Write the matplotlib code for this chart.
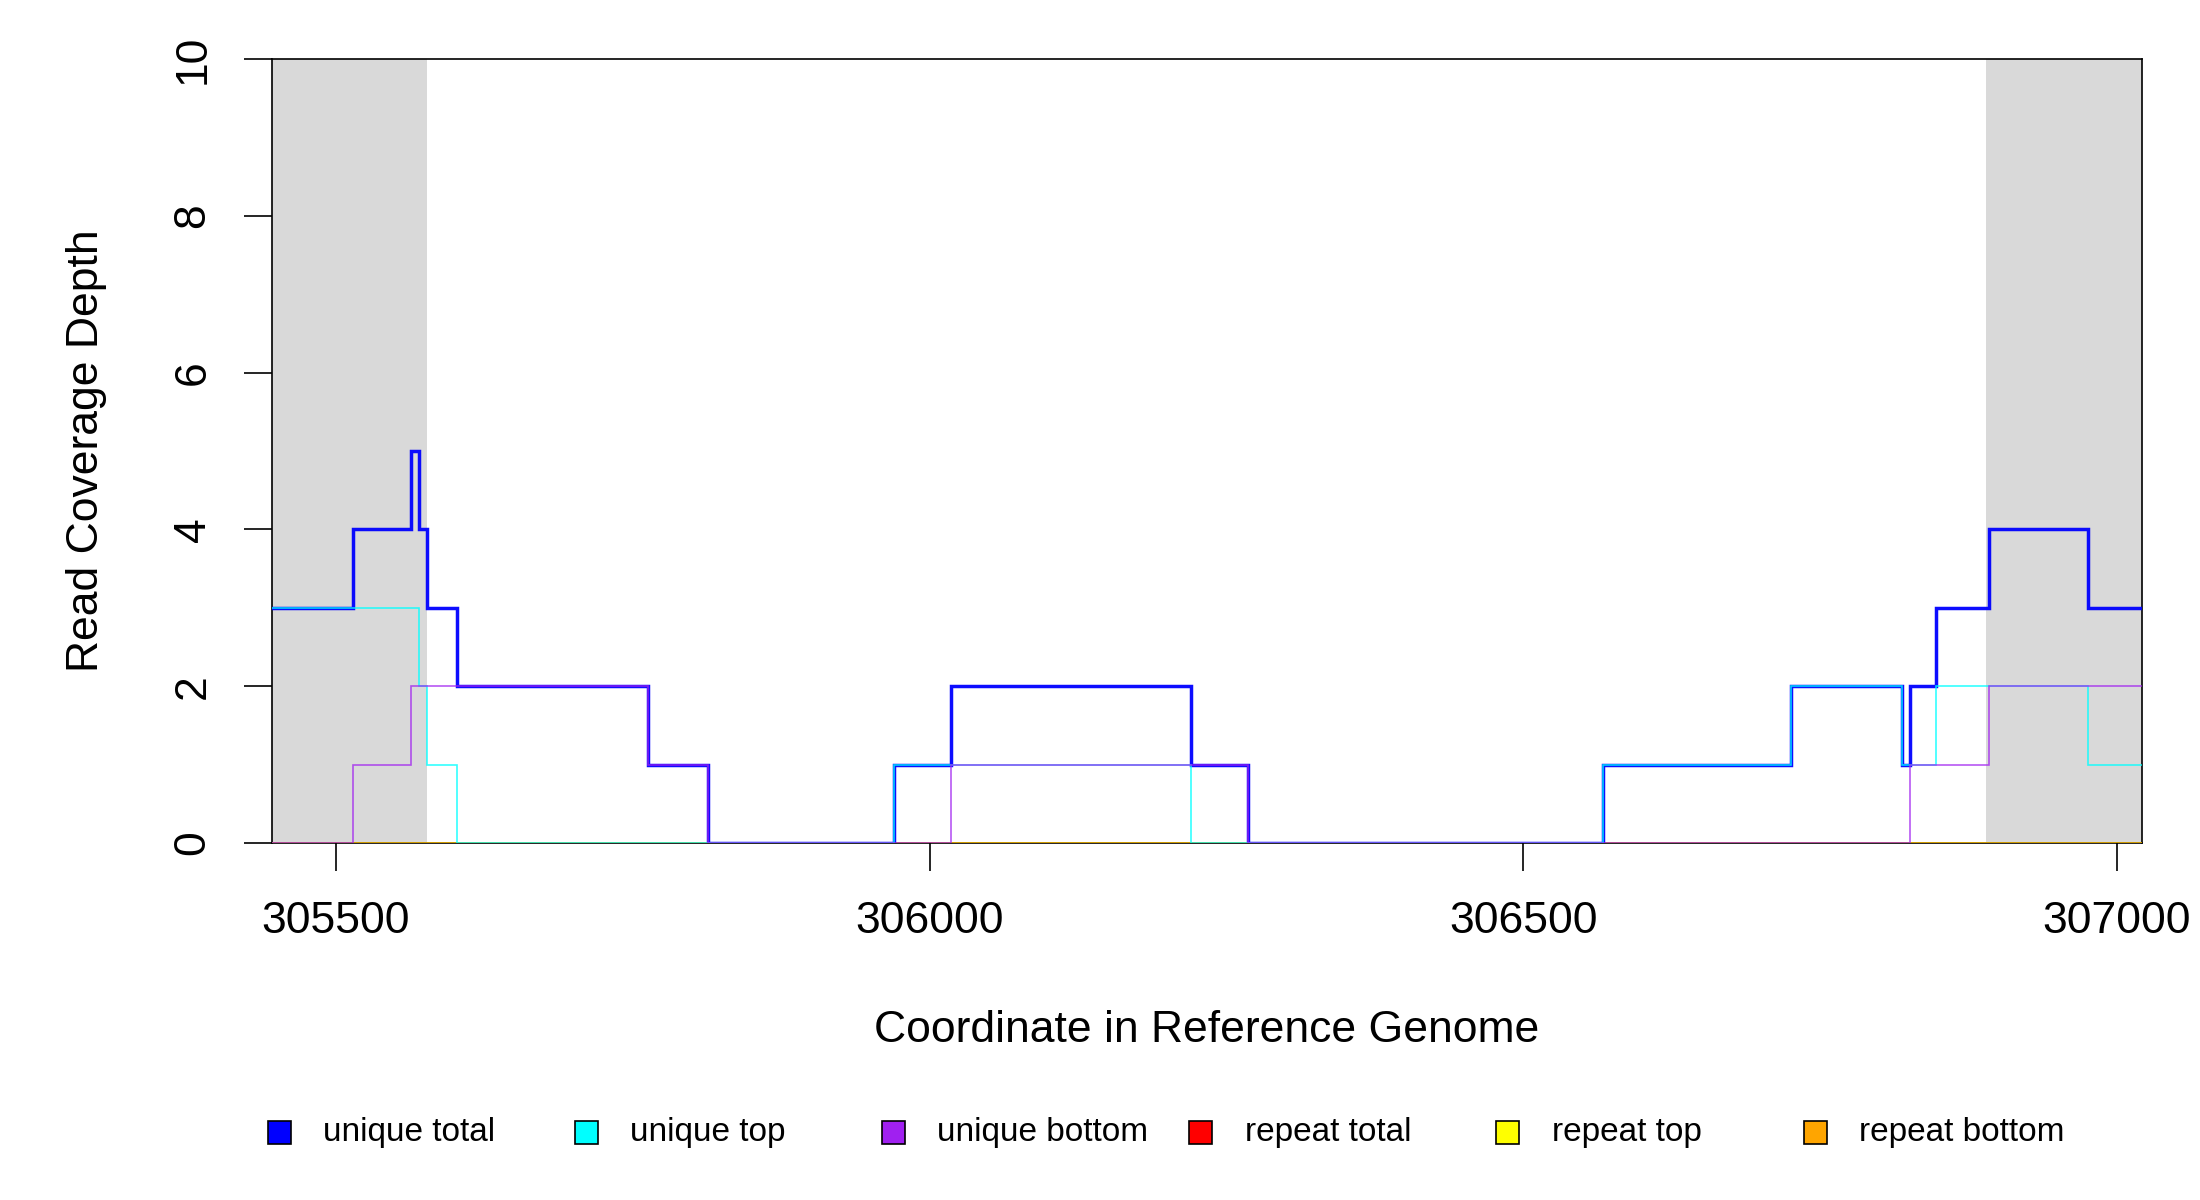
import matplotlib
matplotlib.use("Agg")
import matplotlib.pyplot as plt
from matplotlib.patches import Rectangle

plt.rcParams['font.family'] = ['Liberation Sans', 'DejaVu Sans']

# ---- data ----
x_min, x_max = 305446, 307021
flank_left = (305446, 305577)
flank_right = (306890, 307021)

unique_total_x = [305446, 305514, 305563, 305570, 305577, 305602, 305763, 305813,
                  305970, 306018, 306220, 306268, 306567, 306726, 306819, 306826,
                  306848, 306892, 306976, 307021]
unique_total_y = [3, 4, 5, 4, 3, 2, 1, 0, 1, 2, 1, 0, 1, 2, 1, 2, 3, 4, 3, 3]

unique_top_x = [305446, 305570, 305577, 305602, 305970, 306220, 306567, 306726,
                306819, 306848, 306976, 307021]
unique_top_y = [3, 2, 1, 0, 1, 0, 1, 2, 1, 2, 1, 1]

unique_bottom_x = [305446, 305514, 305563, 305763, 305813, 306018, 306268, 306826,
                   306892, 307021]
unique_bottom_y = [0, 1, 2, 1, 0, 1, 0, 1, 2, 2]

repeat_total_x = [305446, 307021]
repeat_total_y = [0, 0]
repeat_top_x = [305446, 307021]
repeat_top_y = [0, 0]
repeat_bottom_x = [305446, 307021]
repeat_bottom_y = [0, 0]

legend_labels = ["unique total", "unique top", "unique bottom",
                 "repeat total", "repeat top", "repeat bottom"]
legend_colors = ["#0000FF", "#00FFFF", "#A020F0", "#FF0000", "#FFFF00", "#FFA500"]

x_ticks = [305500, 306000, 306500, 307000]
y_ticks = [0, 2, 4, 6, 8, 10]

# ---- figure ----
fig = plt.figure(figsize=(11, 6), dpi=200)
ax = fig.add_axes([0.1236, 0.2975, 0.9735 - 0.1236, 0.9508 - 0.2975])

ax.axvspan(*flank_left, color="#D9D9D9", lw=0, zorder=0)
ax.axvspan(*flank_right, color="#D9D9D9", lw=0, zorder=0)

series = [
    (repeat_total_x, repeat_total_y, legend_colors[3], 0.9, 0.7),
    (repeat_top_x, repeat_top_y, legend_colors[4], 0.9, 0.7),
    (repeat_bottom_x, repeat_bottom_y, legend_colors[5], 0.9, 0.7),
    (unique_total_x, unique_total_y, legend_colors[0], 1.25, 0.95),
    (unique_top_x, unique_top_y, legend_colors[1], 0.6, 0.8),
    (unique_bottom_x, unique_bottom_y, legend_colors[2], 0.6, 0.75),
]
for i, (xs, ys, c, lw, a) in enumerate(series):
    ax.step(xs, ys, where="post", color=c, lw=lw, alpha=a, zorder=2 + i,
            solid_joinstyle="miter")

ax.set_xlim(x_min, x_max)
ax.set_ylim(0, 10)
ax.set_xticks(x_ticks)
ax.set_xticklabels([str(t) for t in x_ticks])
ax.set_yticks(y_ticks)
ax.set_yticklabels([str(t) for t in y_ticks], rotation=90, va="center")
ax.tick_params(axis="both", direction="out", length=10, width=0.6, labelsize=16,
               colors="black")
ax.tick_params(axis="x", pad=11)
ax.tick_params(axis="y", pad=11)
for s in ax.spines.values():
    s.set_linewidth(0.6)
    s.set_color("black")

fig.text(0.5 * (0.1236 + 0.9735), 1 - 1031 / 1200, "Coordinate in Reference Genome",
         ha="center", va="center", fontsize=16)
fig.text(87 / 2200, 0.5 * (0.2975 + 0.9508), "Read Coverage Depth",
         ha="center", va="center", rotation=90, fontsize=16)

# legend
leg_y = 1 - 1132 / 1200
sq = 23
for i, (lab, col) in enumerate(zip(legend_labels, legend_colors)):
    cx = 279 + i * 307.2
    fig.patches.append(Rectangle(((cx - sq / 2) / 2200, leg_y - (sq / 2) / 1200),
                                 sq / 2200, sq / 1200, transform=fig.transFigure,
                                 facecolor=col, edgecolor="black", lw=0.6))
    fig.text((cx + 44) / 2200, leg_y, lab, ha="left", va="center", fontsize=12)

fig.savefig("out.png", dpi=200)
